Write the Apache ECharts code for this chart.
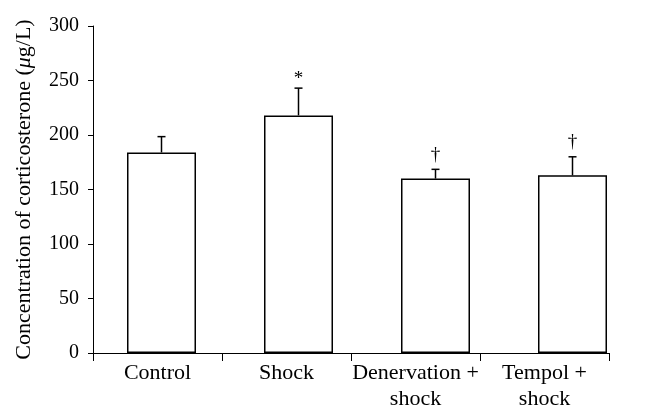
<!DOCTYPE html>
<html><head><meta charset="utf-8">
<script src="https://cdn.jsdelivr.net/npm/echarts@6/dist/echarts.min.js"></script>
<style>html,body{margin:0;padding:0;background:#fff}#c{width:656px;height:420px}</style>
</head><body><div id="c"></div>
<script>
const categories = ['Control', 'Shock', 'Denervation +\nshock', 'Tempol +\nshock'];
const means = [184, 218, 160, 163];
const errorTops = [198.5, 243, 168.5, 180];
const marks = ['', '*', '†', '†'];
const yTicks = [0, 50, 100, 150, 200, 250, 300];

const font = 'Liberation Serif';
const chart = echarts.init(document.getElementById('c'), null, {renderer: 'canvas'});
chart.setOption({
  animation: false,
  grid: [
    {left: 93, right: 47, top: 26, bottom: 67},
    {left: 93, right: 15, top: 26, bottom: 67}
  ],
  xAxis: [
    {type: 'category', gridIndex: 0, data: categories, boundaryGap: true,
     axisLine: {lineStyle: {color: '#000', width: 1}},
     axisTick: {show: true, length: 8, lineStyle: {color: '#000'}},
     axisLabel: {color: '#000', fontFamily: font, fontSize: 22, margin: 7, lineHeight: 26, interval: 0}},
    {type: 'category', gridIndex: 1, data: categories, show: false}
  ],
  yAxis: [
    {type: 'value', gridIndex: 0, min: yTicks[0], max: yTicks[yTicks.length-1], interval: 50,
     name: '{a|Concentration of corticosterone (}{i|μ}{a|g/L)}', nameLocation: 'middle', nameGap: 58,
     nameTextStyle: {rich: {a: {fontFamily: font, fontSize: 22, color: '#000'}, i: {fontFamily: font, fontSize: 22, fontStyle: 'italic', color: '#000'}}},
     axisLine: {show: true, lineStyle: {color: '#000', width: 1}},
     axisTick: {show: true, length: 5, lineStyle: {color: '#000'}},
     axisLabel: {color: '#000', fontFamily: font, fontSize: 20, margin: 14},
     splitLine: {show: false}},
    {type: 'value', gridIndex: 1, min: 0, max: 300, show: false, splitLine: {show: false}}
  ],
  series: [
    {type: 'bar', xAxisIndex: 1, yAxisIndex: 1, data: means, barWidth: 69,
     itemStyle: {color: '#fff', borderColor: '#000', borderWidth: 1.5}},
    {type: 'custom', xAxisIndex: 1, yAxisIndex: 1,
     data: means.map((m, i) => [i, m, errorTops[i]]),
     renderItem: function (params, api) {
       const x = api.coord([api.value(0), api.value(1)])[0];
       const yLo = api.coord([api.value(0), api.value(1)])[1];
       const yHi = api.coord([api.value(0), api.value(2)])[1];
       const children = [
         {type: 'line', shape: {x1: x, y1: yLo, x2: x, y2: yHi}, style: {stroke: '#000', lineWidth: 1.5}},
         {type: 'line', shape: {x1: x - 4, y1: yHi, x2: x + 4, y2: yHi}, style: {stroke: '#000', lineWidth: 1.5}}
       ];
       const mk = marks[params.dataIndex];
       if (mk) {
         children.push({type: 'text', style: {text: mk, x: x, y: yHi - (mk === '*' ? 0 : 5), textAlign: 'center', textVerticalAlign: 'bottom', fontFamily: font, fontSize: 19, fill: '#000'}});
       }
       return {type: 'group', children: children};
     },
     z: 5}
  ]
});
</script></body></html>
